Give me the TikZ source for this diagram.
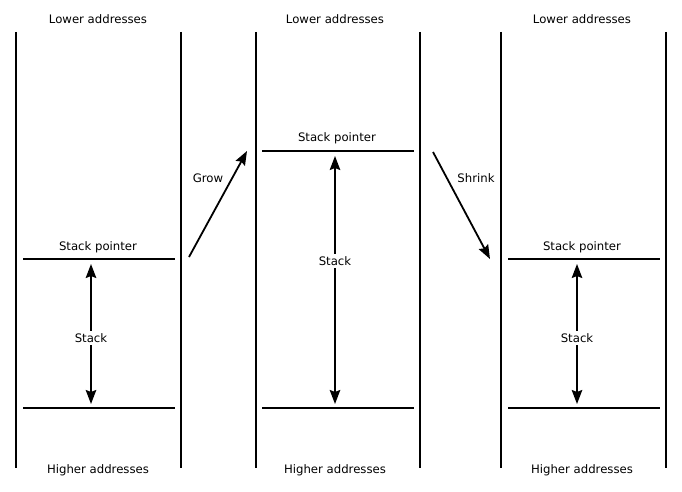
\documentclass[tikz,border=0pt]{standalone}
\usepackage{fontspec}
\setmainfont{DejaVu Sans}
\usetikzlibrary{arrows.meta}
\begin{document}
\begin{tikzpicture}[x=1pt,y=-1pt,
  wall/.style={line width=2pt},
  level/.style={line width=1.8pt},
  lbl/.style={font=\fontsize{11.7}{14}\selectfont, inner sep=1pt},
  stk/.style={font=\fontsize{11.7}{14}\selectfont, fill=white, inner sep=2pt},
  dbl/.style={line width=1.8pt, {Stealth[length=14pt,width=10.5pt,inset=2pt]}-{Stealth[length=14pt,width=10.5pt,inset=2pt]}},
  mv/.style={line width=1.8pt, -{Stealth[length=14pt,width=10.5pt,inset=2pt]}}]
\useasboundingbox (0,0) rectangle (682,492);
% walls
\foreach \n/\x in {a/16,b/181,c/256,d/420,e/501,f/666}{
  \coordinate (\n1) at (\x,32);
  \coordinate (\n2) at (\x,468);
  \draw[wall] (\n1) -- (\n2);
}
% address labels
\foreach \n/\x in {1/98,2/335,3/582}{
  \node[lbl] (low\n) at (\x,19) {Lower addresses};
  \node[lbl] (high\n) at (\x,470) {Higher addresses};
}
% panel 1
\coordinate (p1l) at (23,259); \coordinate (p1r) at (175,259);
\coordinate (q1l) at (23,408); \coordinate (q1r) at (175,408);
\draw[level] (p1l) -- (p1r);
\draw[level] (q1l) -- (q1r);
\node[lbl] (sp1) at (98,247) {Stack pointer};
\coordinate (s1t) at (91,264); \coordinate (s1b) at (91,404);
\draw[dbl] (s1t) -- (s1b);
\node[stk] (st1) at (91,338) {Stack};
% panel 2
\coordinate (p2l) at (262,151); \coordinate (p2r) at (414,151);
\coordinate (q2l) at (262,408); \coordinate (q2r) at (414,408);
\draw[level] (p2l) -- (p2r);
\draw[level] (q2l) -- (q2r);
\node[lbl] (sp2) at (337,138) {Stack pointer};
\coordinate (s2t) at (335,156); \coordinate (s2b) at (335,404);
\draw[dbl] (s2t) -- (s2b);
\node[stk] (st2) at (335,261) {Stack};
% panel 3
\coordinate (p3l) at (508,259); \coordinate (p3r) at (660,259);
\coordinate (q3l) at (508,408); \coordinate (q3r) at (660,408);
\draw[level] (p3l) -- (p3r);
\draw[level] (q3l) -- (q3r);
\node[lbl] (sp3) at (582,247) {Stack pointer};
\coordinate (s3t) at (577,264); \coordinate (s3b) at (577,404);
\draw[dbl] (s3t) -- (s3b);
\node[stk] (st3) at (577,338) {Stack};
% grow / shrink
\coordinate (g1) at (189,257); \coordinate (g2) at (247,151);
\draw[mv] (g1) -- (g2);
\node[lbl] (grow) at (208,178) {Grow};
\coordinate (h1) at (433,152); \coordinate (h2) at (490,259);
\draw[mv] (h1) -- (h2);
\node[lbl] (shrink) at (476,178) {Shrink};
\end{tikzpicture}
\end{document}
